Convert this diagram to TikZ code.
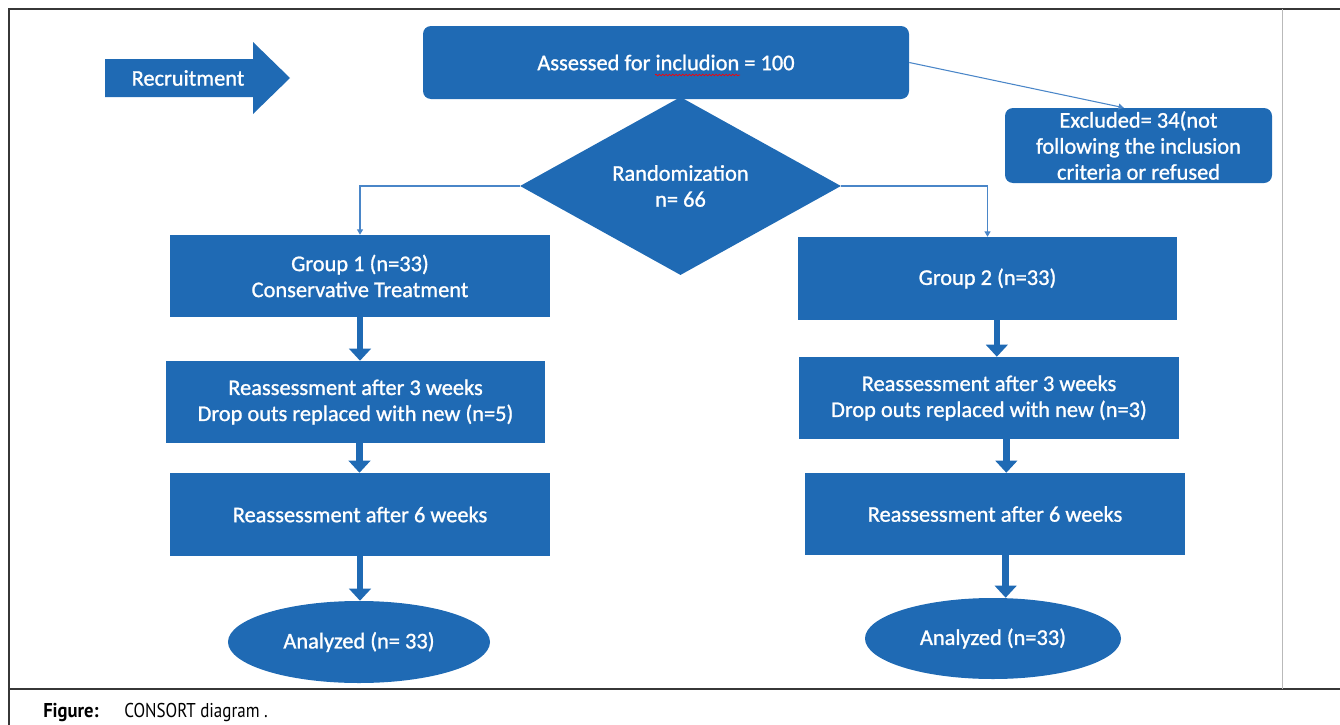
\documentclass[tikz,border=0pt]{standalone}
\usepackage{fontspec}
\setmainfont{Carlito}
\newfontfamily\boxfont[FakeBold=1.1]{Carlito}
\newfontfamily\capfont[FakeStretch=0.85]{PT Sans}
\newfontfamily\capboldfont[FakeStretch=0.93]{PT Sans Bold}
\usepackage{xcolor}
\usepackage{tikz}
\usetikzlibrary{shapes.geometric, arrows.meta, decorations.pathmorphing}

\definecolor{boxblue}{RGB}{31,106,180}
\definecolor{lineblue}{RGB}{74,134,200}
\definecolor{framegray}{RGB}{55,55,55}

\tikzset{
  box/.style={rectangle, fill=boxblue, text=white, align=center, inner sep=0pt,
    font=\boxfont\fontsize{16.8}{19.5}\selectfont},
  rbox/.style={box, rounded corners=6pt},
  oval/.style={box, ellipse},
  link/.style={draw=lineblue, line width=0.8pt, -{Triangle[width=4.5pt,length=4pt]}},
  fatarrow/.style={draw=boxblue, line width=5pt, -{Triangle[width=16pt,length=9pt]}},
  squiggle/.style={draw=red, line width=0.5pt, decorate, decoration={snake, amplitude=0.6pt, segment length=2.5pt}}
}

\begin{document}
\begin{tikzpicture}[x=0.75pt, y=-0.75pt]
\useasboundingbox (0,0) rectangle (1340,725);

% frame and caption
\draw[framegray, line width=1.2pt] (9,725) -- (9,9) -- (1340,9);
\draw[framegray, line width=1.2pt] (9,689) -- (1340,689);
\draw[gray!55, line width=0.6pt] (1282,9) -- (1282,689);
\node[anchor=base west, inner sep=0pt, font=\capboldfont\fontsize{15}{17}\selectfont] (figlabel) at (43,717) {Figure:};
\node[anchor=base west, inner sep=0pt, font=\capfont\fontsize{15}{17}\selectfont] (figtext) at (124,717) {CONSORT diagram .};

% recruitment arrow
\fill[boxblue] (105,59) -- (253,59) -- (253,42) -- (290,78) -- (253,114) -- (253,97) -- (105,97) -- cycle;
\node[box, fill=none] (recruit) at (188,78) {Recruitment};

% flow
\node[rbox, minimum width=364.5pt, minimum height=54.75pt] (assess) at (666,62.5) {Assessed for includion = 100};
\node[box, diamond, minimum width=240.75pt, minimum height=132pt] (rand) at (680.5,186) {Randomization\\n= 66};
\node[rbox, minimum width=200.25pt, minimum height=56.25pt] (excl) at (1138.5,145.5)
  {Excluded= 34(not\\following the inclusion\\criteria or refused};

\node[box, minimum width=285pt, minimum height=61.5pt] (g1) at (360,276) {Group 1 (n=33)\\Conservative Treatment};
\node[box, minimum width=284.25pt, minimum height=61.5pt] (r1a) at (355.5,402) {Reassessment after 3 weeks\\Drop outs replaced with new (n=5)};
\node[box, minimum width=285pt, minimum height=62.25pt] (r1b) at (360,514.5) {Reassessment after 6 weeks};
\node[oval, minimum width=196.5pt, minimum height=61.5pt] (an1) at (359,642) {Analyzed (n= 33)};

\node[box, minimum width=284.25pt, minimum height=62.25pt] (g2) at (987.5,278.5) {Group 2 (n=33)};
\node[box, minimum width=285pt, minimum height=61.5pt] (r2a) at (989,398) {Reassessment after 3 weeks\\Drop outs replaced with new (n=3)};
\node[box, minimum width=285pt, minimum height=61.5pt] (r2b) at (995,514) {Reassessment after 6 weeks};
\node[oval, minimum width=192pt, minimum height=60.75pt] (an2) at (993,638.5) {Analyzed (n=33)};

% spell-check mark
\draw[squiggle] (655,75) -- (740,75);

\draw[link] (assess.east) -- ([xshift=-11pt]excl.north);
\draw[link] (rand.west) -| (g1.north);
\draw[link] (rand.east) -| (g2.north);

\draw[fatarrow] (g1.south) -- (g1.south |- r1a.north);
\draw[fatarrow] ([xshift=3pt]r1a.south) -- ([xshift=3pt]r1a.south |- r1b.north);
\draw[fatarrow] (r1b.south) -- (r1b.south |- an1.north);
\draw[fatarrow] ([xshift=7pt]g2.south) -- ([xshift=7pt]g2.south |- r2a.north);
\draw[fatarrow] ([xshift=13pt]r2a.south) -- ([xshift=13pt]r2a.south |- r2b.north);
\draw[fatarrow] ([xshift=8pt]r2b.south) -- ([xshift=8pt]r2b.south |- an2.north);
\end{tikzpicture}
\end{document}
